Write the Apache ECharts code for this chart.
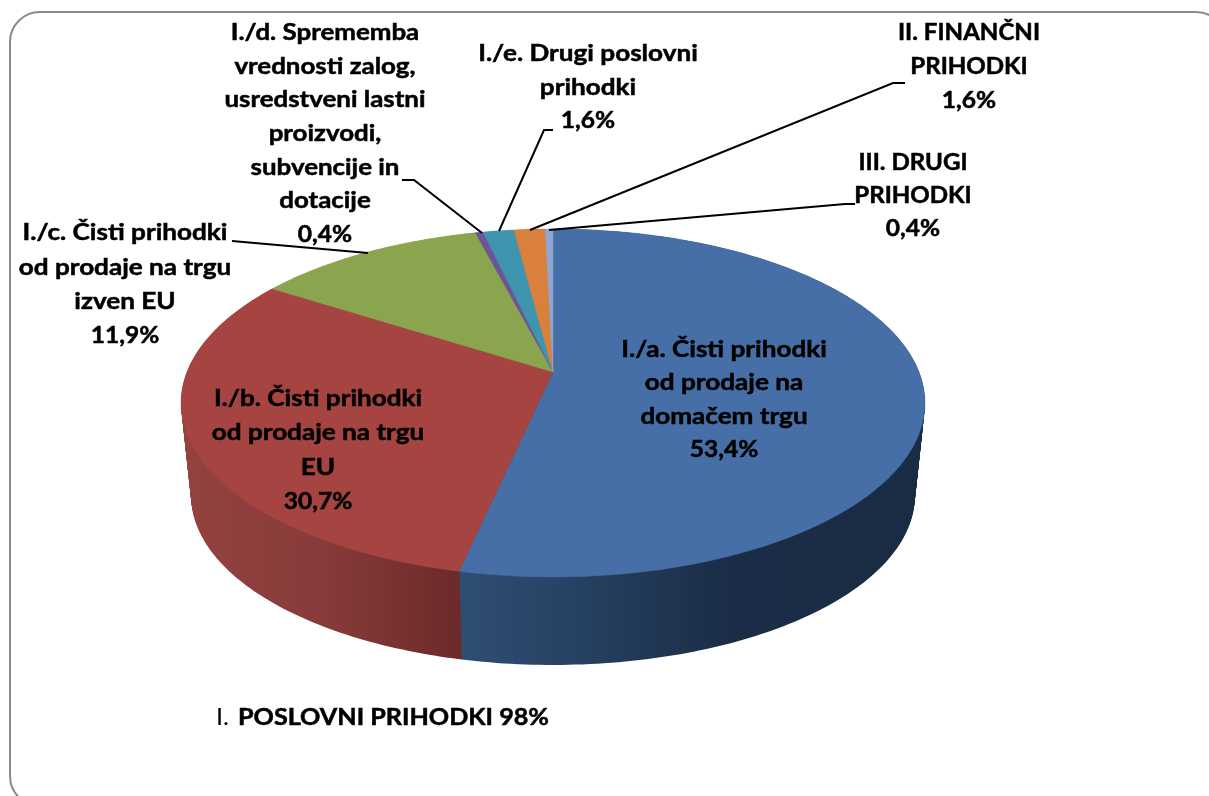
<!DOCTYPE html>
<html>
<head>
<meta charset="utf-8">
<style>html,body{margin:0;padding:0;background:#fff}#c{width:1209px;height:796px}</style>
<script src="https://cdn.jsdelivr.net/npm/echarts@6/dist/echarts.min.js"></script>
</head>
<body>
<div id="c"></div>
<script>
const names = [
  ['I./a. Čisti prihodki', 'od prodaje na', 'domačem trgu'],
  ['I./b. Čisti prihodki', 'od prodaje na trgu', 'EU'],
  ['I./c. Čisti prihodki', 'od prodaje na trgu', 'izven EU'],
  ['I./d. Sprememba', 'vrednosti zalog,', 'usredstveni lastni', 'proizvodi,', 'subvencije in', 'dotacije'],
  ['I./e. Drugi poslovni', 'prihodki'],
  ['II. FINANČNI', 'PRIHODKI'],
  ['III. DRUGI', 'PRIHODKI']
];
const values = [53.4, 30.7, 11.9, 0.4, 1.6, 1.6, 0.4];
const topColors = ['#456fa6', '#a54441', '#8ba44e', '#6f5495', '#3f95ae', '#d9803c', '#8fa7d0'];

// label anchors: centre x, centre y of first line, line spacing, horizontal stretch
const labelLayout = [
  [724, 350, 33.2, 1.16], [318, 399, 34.2, 1.16], [125, 233, 34.4, 1.16], [325, 33, 33.6, 1.15],
  [588, 54, 33.5, 1.16], [969, 33, 34, 1.07], [913, 163, 33, 1.07]
];
const leaders = [
  [[232, 241], [368, 253]],
  [[402, 180], [414, 180], [482, 233]],
  [[553, 130], [544, 130], [499, 231]],
  [[905, 83], [893, 83], [530, 230]],
  [[855, 204], [845, 204], [549, 230]]
];

// perspective disc geometry
const CX = 553, TOP_Y = 372, BOT_Y = 465.5, A = 366, B = 168.5, K = 0.178, S = 0.973, LAYERS = 60;
function rim(theta, y0, s) {
  const w = 1 + K * Math.cos(theta);
  return [CX + s * A * Math.sin(theta) / w, y0 - s * B * Math.cos(theta) / w];
}
const total = values.reduce((a, b) => a + b, 0);
function sweep(i) {
  let before = 0;
  for (let j = 0; j < i; j++) before += values[j];
  return [before / total * 2 * Math.PI, (before + values[i]) / total * 2 * Math.PI];
}
function arc(t0, t1, y0, s) {
  const n = Math.max(2, Math.ceil((t1 - t0) * 60));
  const pts = [];
  for (let i = 0; i <= n; i++) pts.push(rim(t0 + (t1 - t0) * i / n, y0, s));
  return pts;
}
function sideFill(i) {
  if (i === 0) return { type: 'linear', x: 460, y: 0, x2: 925, y2: 0, global: true, colorStops: [
    { offset: 0, color: '#2f4e75' }, { offset: 0.3, color: '#243e5e' }, { offset: 0.58, color: '#1b2d46' }, { offset: 1, color: '#1a2c44' }] };
  if (i === 1) return { type: 'linear', x: 181, y: 0, x2: 460, y2: 0, global: true, colorStops: [
    { offset: 0, color: '#94423f' }, { offset: 0.5, color: '#873b3a' }, { offset: 1, color: '#6c2a2a' }] };
  return topColors[i];
}
const rows = values.map((v, i) => ({ value: v, name: names[i].join(' ') }));

const sideSeries = {
  type: 'custom', coordinateSystem: 'none', z: 1, silent: true, animation: false, data: rows,
  renderItem(params) {
    const idx = params.dataIndex;
    const [a, b] = sweep(idx);
    const fill = sideFill(idx);
    const children = [];
    for (let l = 0; l <= LAYERS; l++) {
      const f = 1 - l / LAYERS;
      const y0 = TOP_Y + (BOT_Y - TOP_Y) * f, s = 1 + (S - 1) * f;
      children.push({
        type: 'polygon',
        z2: values.length - idx,
        shape: { points: [[CX, y0]].concat(arc(a, b, y0, s)) },
        style: { fill: fill }
      });
    }
    return { type: 'group', children: children };
  }
};
const topSeries = {
  type: 'custom', coordinateSystem: 'none', z: 2, silent: true, animation: false, data: rows,
  renderItem(params) {
    const [a, b] = sweep(params.dataIndex);
    const pts = [[CX, TOP_Y]].concat(arc(a, b, TOP_Y, 1));
    const col = topColors[params.dataIndex];
    return { type: 'polygon', shape: { points: pts }, style: { fill: col, stroke: col, lineWidth: 0.4 } };
  }
};

const FONT = 'Lato, "Open Sans", sans-serif';
const FS = 22.5;
function pct(v) { return v.toFixed(1).replace('.', ',') + '%'; }
const graphics = [{
  type: 'rect', z: 0, silent: true,
  shape: { x: 10, y: 12, width: 1216, height: 794, r: 30 },
  style: { fill: '#fff', stroke: '#8a8a8a', lineWidth: 2 }
}];
leaders.forEach(p => graphics.push({
  type: 'polyline', z: 50, silent: true, shape: { points: p },
  style: { stroke: '#000', lineWidth: 2, fill: null }
}));
names.forEach((lines, i) => {
  const [x, y, dy, sx] = labelLayout[i];
  lines.concat([pct(values[i])]).forEach((t, j) => graphics.push({
    type: 'text', z: 60, silent: true, x: x, y: y + j * dy, scaleX: j === lines.length ? 1.09 : sx,
    style: { text: t, font: 'bold ' + FS + 'px ' + FONT, fill: '#000', stroke: '#000', lineWidth: 0.5, align: 'center', verticalAlign: 'middle' }
  }));
});
graphics.push({ type: 'text', z: 60, silent: true, x: 216, y: 718, scaleX: 1.12,
  style: { text: 'I. ', font: FS + 'px ' + FONT, fill: '#000', align: 'left', verticalAlign: 'middle' } });
graphics.push({ type: 'text', z: 60, silent: true, x: 238, y: 718, scaleX: 1.118,
  style: { text: 'POSLOVNI PRIHODKI 98%', font: 'bold ' + FS + 'px ' + FONT, fill: '#000', stroke: '#000', lineWidth: 0.5, align: 'left', verticalAlign: 'middle' } });

const chart = echarts.init(document.getElementById('c'), null, { renderer: 'canvas' });
chart.setOption({
  backgroundColor: '#fff',
  animation: false,
  graphic: { elements: graphics },
  series: [sideSeries, topSeries]
});
</script>
</body>
</html>
